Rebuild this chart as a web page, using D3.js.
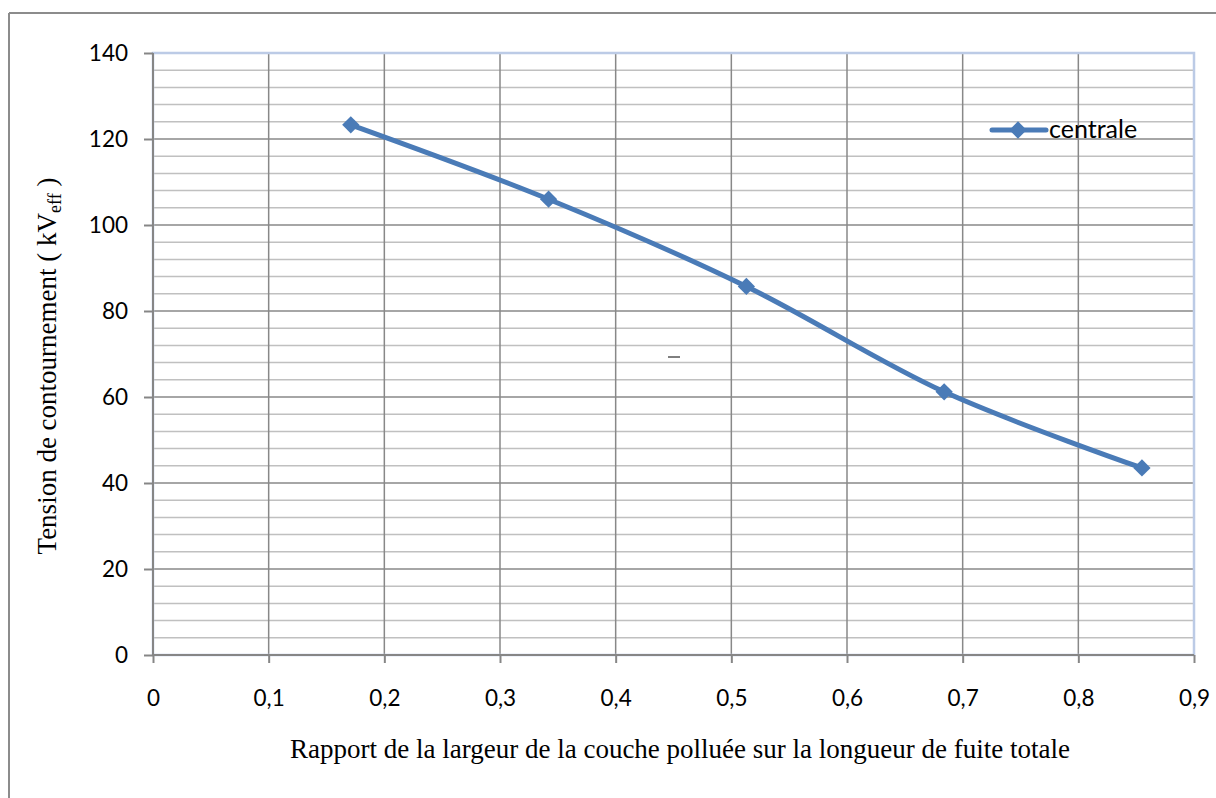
<!DOCTYPE html>
<html>
<head>
<meta charset="utf-8">
<script src="https://cdn.jsdelivr.net/npm/d3@7"></script>
<style>
  html, body { margin: 0; padding: 0; background: #fff; }
  svg { display: block; }
</style>
</head>
<body>
<svg id="chart" width="1216" height="798"></svg>
<script>
// ---- data ----
const seriesName = "centrale";
const xValues = [0.171, 0.342, 0.513, 0.684, 0.855];
const yValues = [123.3, 106.0, 85.7, 61.2, 43.5];
const xTicks = [0, 0.1, 0.2, 0.3, 0.4, 0.5, 0.6, 0.7, 0.8, 0.9];
const yTicks = [0, 20, 40, 60, 80, 100, 120, 140];
const yMinorTicks = d3.range(0, 141, 4);
const xTitle = "Rapport de la largeur de la couche polluée sur la longueur de fuite totale";
const yTitleMain = "Tension de contournement ( kV";
const yTitleSub = "eff";
const yTitleEnd = " )";

// ---- layout ----
const svg = d3.select("#chart");
const L = 153, T = 53, R = 1194, B = 655;
const x = d3.scaleLinear().domain([0, 0.9]).range([L, R]);
const y = d3.scaleLinear().domain([0, 140]).range([B, T]);
const tickFont = "Lato, 'Open Sans', sans-serif";
const serif = "'Liberation Serif', 'Times New Roman', serif";
const blue = "#4a7bb7";

// outer frame
svg.append("line").attr("x1", 9).attr("x2", 1216).attr("y1", 13).attr("y2", 13)
  .attr("stroke", "#8c8c8c").attr("stroke-width", 2);
svg.append("line").attr("x1", 9).attr("x2", 9).attr("y1", 13).attr("y2", 798)
  .attr("stroke", "#8c8c8c").attr("stroke-width", 2);

// minor horizontal grid
svg.append("g").selectAll("line").data(yMinorTicks.filter(v => v % 20 !== 0))
  .join("line")
  .attr("x1", L).attr("x2", R)
  .attr("y1", d => y(d)).attr("y2", d => y(d))
  .attr("stroke", "#c0c0c0").attr("stroke-width", 1.5);

// major horizontal grid
svg.append("g").selectAll("line").data(yTicks.filter(v => v > 0 && v < 140))
  .join("line")
  .attr("x1", L).attr("x2", R)
  .attr("y1", d => y(d)).attr("y2", d => y(d))
  .attr("stroke", "#888").attr("stroke-width", 1.5);

// vertical grid
svg.append("g").selectAll("line").data(xTicks.filter(v => v > 0 && v < 0.9))
  .join("line")
  .attr("x1", d => x(d)).attr("x2", d => x(d))
  .attr("y1", T).attr("y2", B)
  .attr("stroke", "#888").attr("stroke-width", 1.5);

// plot area border (light blue)
svg.append("rect").attr("x", L).attr("y", T).attr("width", R - L).attr("height", B - T)
  .attr("fill", "none").attr("stroke", "#bccbe6").attr("stroke-width", 2.5);

// axes
const yAxis = d3.axisLeft(y).tickValues(yTicks).tickSize(9).tickPadding(16)
  .tickFormat(d => d);
const gy = svg.append("g").attr("transform", `translate(${L},0)`).call(yAxis);
const xAxis = d3.axisBottom(x).tickValues(xTicks).tickSize(8).tickPadding(27)
  .tickFormat(d => d === 0 ? "0" : String(d3.format(".1f")(d)).replace(".", ","));
const gx = svg.append("g").attr("transform", `translate(0,${B})`).call(xAxis);
[gx, gy].forEach(g => {
  g.attr("font-size", 22.5).attr("font-family", tickFont);
  g.select(".domain").attr("stroke", "#868686").attr("stroke-width", 2);
  g.selectAll(".tick line").attr("stroke", "#868686").attr("stroke-width", 2);
  g.selectAll(".tick text").attr("fill", "#000");
});
gx.select(".domain").attr("d", `M${L},0H${R}`);
gy.select(".domain").attr("d", `M0,${B}V${T}`);

// series line
const pts = xValues.map((v, i) => [x(v), y(yValues[i])]);
svg.append("path")
  .attr("d", d3.line().curve(d3.curveCatmullRom.alpha(0.5))(pts))
  .attr("fill", "none").attr("stroke", blue).attr("stroke-width", 5)
  .attr("stroke-linecap", "round").attr("stroke-linejoin", "round");

// markers
const diamond = d3.symbol().type(d3.symbolDiamond2).size(190);
svg.append("g").selectAll("path").data(pts).join("path")
  .attr("transform", d => `translate(${d[0]},${d[1]})`)
  .attr("d", diamond).attr("fill", blue);

// legend
const lg = svg.append("g");
lg.append("line").attr("x1", 992).attr("x2", 1046).attr("y1", 130).attr("y2", 130)
  .attr("stroke", blue).attr("stroke-width", 5).attr("stroke-linecap", "round");
lg.append("path").attr("transform", "translate(1018,130)").attr("d", diamond).attr("fill", blue);
lg.append("text").attr("x", 1049).attr("y", 138).text(seriesName)
  .attr("font-family", tickFont).attr("font-size", 25).attr("fill", "#000");

// stray small dash
svg.append("line").attr("x1", 668).attr("x2", 680).attr("y1", 357).attr("y2", 357)
  .attr("stroke", "#000").attr("stroke-width", 1);

// x title
svg.append("text").attr("x", 680).attr("y", 758).attr("text-anchor", "middle")
  .attr("font-family", serif).attr("font-size", 27).attr("fill", "#000").text(xTitle);

// y title
const yt = svg.append("text")
  .attr("transform", "translate(56,366) rotate(-90)")
  .attr("text-anchor", "middle")
  .attr("font-family", serif).attr("font-size", 27).attr("fill", "#000");
yt.append("tspan").text(yTitleMain);
yt.append("tspan").attr("font-size", 18).attr("dy", 5).text(yTitleSub);
yt.append("tspan").attr("dy", -5).text(yTitleEnd);
</script>
</body>
</html>
